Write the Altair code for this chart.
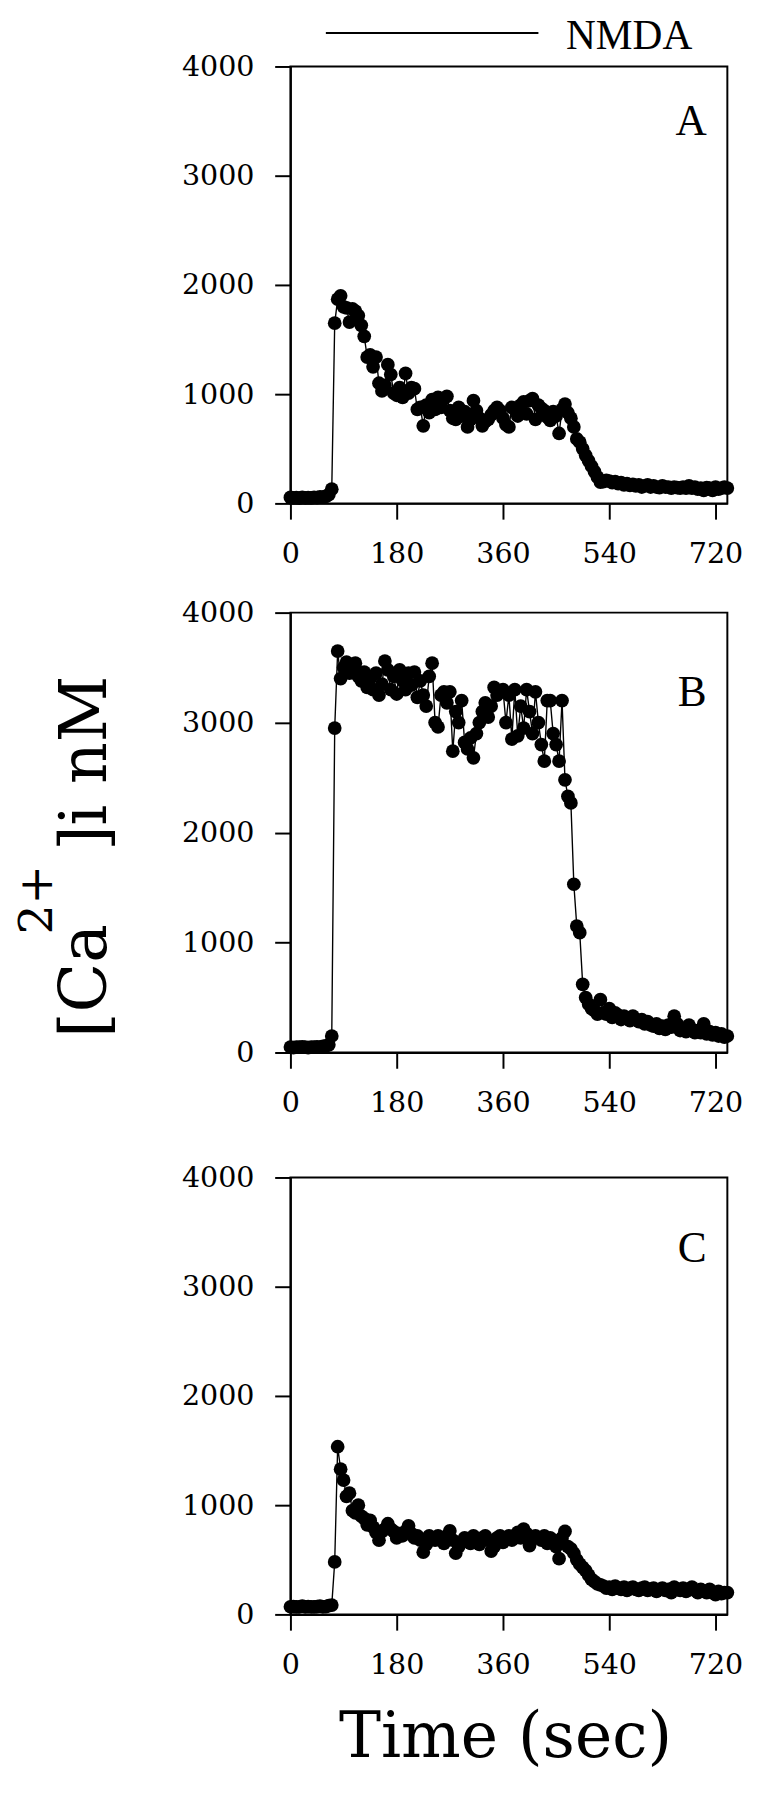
import altair as alt
import pandas as pd

# ---------------- data ----------------
time_sec = list(range(0, 745, 5))          # sampling times, 0 ... 740 s

ca_A = [
    55, 50, 52, 48, 55, 50, 53, 50, 55, 52, 60, 58, 65, 80,
    130, 1650, 1870, 1900, 1800, 1790, 1660, 1780, 1760, 1720,
    1630, 1530, 1340, 1360, 1250, 1340, 1100, 1030, 1080, 1270,
    1180, 1010, 990, 1060, 970, 1190, 1010, 1060, 1050, 860,
    880, 710, 900, 830, 950, 860, 970, 880, 960, 980,
    850, 780, 770, 880, 800, 840, 700, 770, 940, 850,
    780, 710, 750, 770, 810, 850, 880, 850, 780, 720,
    700, 880, 860, 800, 900, 930, 820, 940, 960, 770,
    900, 870, 850, 790, 760, 840, 800, 640, 860, 910,
    830, 780, 700, 590, 560, 500, 440, 390, 340, 290,
    240, 195, 200, 210, 205, 190, 200, 180, 190, 170,
    180, 165, 175, 160, 170, 150, 160, 170, 150, 160,
    150, 145, 160, 150, 150, 140, 150, 145, 140, 150,
    140, 160, 140, 150, 130, 140, 120, 145, 140, 120,
    150, 130, 140, 150, 140,
]

ca_B = [
    50, 45, 50, 48, 52, 50, 45, 50, 48, 52, 50, 55, 60, 70,
    150, 2950, 3650, 3400, 3500, 3550, 3450, 3500, 3540, 3420,
    3380, 3460, 3320, 3400, 3300, 3450, 3250, 3350, 3560, 3480,
    3300, 3420, 3260, 3480, 3380, 3300, 3450, 3340, 3460, 3230,
    3380, 3250, 3150, 3420, 3540, 3000, 2960, 3250, 3280, 3180,
    3280, 2740, 3100, 3000, 3200, 2820, 2760, 2860, 2680, 2900,
    3000, 3100, 3180, 3050, 3150, 3320, 3250, 3280, 3300, 3000,
    3250, 2850, 3300, 2880, 3150, 2950, 3300, 3100, 2900, 3280,
    3000, 2800, 2650, 3200, 3200, 2900, 2800, 2650, 3200, 2480,
    2330, 2270, 1530, 1150, 1090, 620, 500, 440, 400, 380,
    350, 480, 360, 350, 400, 320, 360, 340, 300, 330,
    310, 290, 330, 300, 280, 300, 260, 280, 250, 240,
    260, 220, 240, 210, 250, 230, 330, 260, 200, 220,
    190, 250, 210, 180, 200, 180, 260, 170, 190, 160,
    180, 150, 170, 140, 150,
]

ca_C = [
    70, 72, 68, 70, 75, 70, 72, 70, 68, 72, 75, 70, 72, 80,
    85, 480, 1535, 1330, 1230, 1080, 1110, 950, 930, 1000,
    900, 880, 820, 860, 800, 750, 680, 760, 780, 830,
    780, 760, 700, 740, 720, 760, 810, 740, 700, 720,
    680, 570, 640, 720, 700, 680, 720, 700, 650, 720,
    765, 680, 560, 620, 660, 700, 680, 650, 720, 690,
    640, 700, 720, 680, 580, 620, 700, 720, 660, 700,
    720, 680, 700, 750, 700, 780, 740, 630, 700, 720,
    700, 680, 720, 650, 700, 680, 620, 510, 700, 760,
    620, 600, 560, 500, 460, 430, 400, 360, 320, 300,
    280, 270, 260, 240, 250, 230, 260, 240, 230, 250,
    220, 240, 250, 230, 220, 240, 250, 220, 230, 240,
    210, 230, 240, 220, 230, 200, 250, 230, 220, 240,
    210, 230, 250, 220, 200, 230, 210, 200, 230, 200,
    180, 210, 190, 200, 200,
]

panel_letters = ["A", "B", "C"]
x_ticks = [0, 180, 360, 540, 720]
y_ticks = [0, 1000, 2000, 3000, 4000]
x_domain = [0, 740]
y_domain = [0, 4000]
nmda_start = [60]
nmda_end = [420]
nmda_label = ["NMDA"]
x_title = "Time (sec)"
y_title_parts = ["[Ca", "2+", "]i nM"]

# ---------------- styling ----------------
W = 444
SERIF_BIG = "DejaVu Serif"
SERIF = "Liberation Serif"

xs = alt.Scale(domain=x_domain, nice=False, zero=False)
ys = alt.Scale(domain=y_domain, nice=False)


def x_enc(field, title=False):
    ax = alt.Axis(values=x_ticks, format="d", labelFlush=False, grid=False,
                  title=x_title if title else "",
                  titleFont=SERIF_BIG, titleFontSize=64, titleFontWeight="normal",
                  titleColor="black", titleBaseline="alphabetic",
                  titleX=218, titleY=144, titleAlign="center")
    return alt.X(field, scale=xs, axis=ax)


def y_enc(field):
    return alt.Y(field, scale=ys,
                 axis=alt.Axis(values=y_ticks, format="d", labelFlush=False,
                               grid=False, title=""))


def panel(vals, letter, height, letter_y, with_x_title=False, extra=()):
    df = pd.DataFrame({"t": time_sec, "v": vals})
    base = alt.Chart(df)
    line = base.mark_line(color="black", strokeWidth=1.4).encode(
        x=x_enc("t:Q", with_x_title), y=y_enc("v:Q"))
    pts = base.mark_circle(color="black", opacity=1, size=195).encode(
        x=x_enc("t:Q", with_x_title), y=y_enc("v:Q"))
    lab = alt.Chart(pd.DataFrame({"lab": [letter]})).mark_text(
        align="right", baseline="alphabetic", font=SERIF, fontSize=44, color="black"
    ).encode(x=alt.value(423), y=alt.value(letter_y), text="lab:N")
    return alt.layer(line, pts, lab, *extra).properties(
        width=W, height=height,
        view=alt.ViewBackground(stroke="black", strokeWidth=2))


# NMDA application bar (panel A)
nmda_df = pd.DataFrame({"start": nmda_start, "end": nmda_end, "lab": nmda_label})
nmda_bar = alt.Chart(nmda_df).mark_rule(color="black", strokeWidth=2).encode(
    x=x_enc("start:Q"), x2="end:Q", y=alt.value(-34))
nmda_txt = alt.Chart(nmda_df).mark_text(
    align="left", baseline="alphabetic", font=SERIF, fontSize=42, color="black", dx=28
).encode(x=x_enc("end:Q"), y=alt.value(-18), text="lab:N")

# y-axis title pieces (panel B), rotated
yt_df = pd.DataFrame({"p": y_title_parts})
yt1 = alt.Chart(yt_df.iloc[[0]]).mark_text(
    align="left", baseline="alphabetic", angle=270, font=SERIF_BIG, fontSize=66, color="black"
).encode(x=alt.value(-187), y=alt.value(432), text="p:N")
yt2 = alt.Chart(yt_df.iloc[[1]]).mark_text(
    align="left", baseline="alphabetic", angle=270, font=SERIF_BIG, fontSize=48, color="black"
).encode(x=alt.value(-242), y=alt.value(327), text="p:N")
yt3 = alt.Chart(yt_df.iloc[[2]]).mark_text(
    align="left", baseline="alphabetic", angle=270, font=SERIF_BIG, fontSize=66, color="black"
).encode(x=alt.value(-187), y=alt.value(242), text="p:N")

pA = panel(ca_A, panel_letters[0], 444, 70, extra=(nmda_bar, nmda_txt))
pB = panel(ca_B, panel_letters[1], 447, 95, extra=(yt1, yt2, yt3))
pC = panel(ca_C, panel_letters[2], 444, 86, with_x_title=True)


def spacer(h):
    return alt.Chart(pd.DataFrame({"z": [0]})).mark_point(opacity=0).encode(
        x=alt.value(0), y=alt.value(0)
    ).properties(width=W, height=h,
                 view=alt.ViewBackground(strokeOpacity=0, fillOpacity=0))


chart = alt.vconcat(
    pA, spacer(111), pB, spacer(127), pC, spacing=0, bounds="flush"
).properties(
    padding={"left": 6, "top": -8, "right": 5, "bottom": 5},
    background="white",
).configure_axis(
    domainColor="black", domainWidth=2, tickColor="black", tickWidth=2, tickSize=16,
    labelFont=SERIF_BIG, labelFontSize=29, labelColor="black", labelPadding=21,
)

chart.save("out.html", embed_options={"renderer": "svg", "actions": False})
